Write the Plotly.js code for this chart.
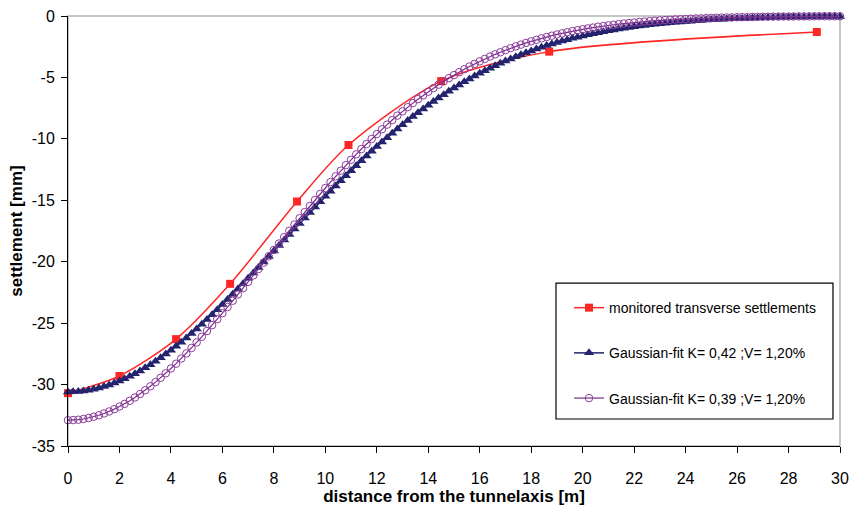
<!DOCTYPE html>
<html>
<head>
<meta charset="utf-8">
<script src="https://cdn.plot.ly/plotly-3.0.1.min.js"></script>
<style>html,body{margin:0;padding:0;background:#fff;}#chart{width:851px;height:511px;}</style>
</head>
<body>
<div id="chart"></div>
<script>
// monitored points
var monX = [0, 2, 4.2, 6.3, 8.9, 10.9, 14.5, 18.7, 29.1];
var monY = [-30.7, -29.3, -26.3, -21.8, -15.1, -10.5, -5.3, -2.9, -1.3];

// fit curve stations [m]
var fitX = [0,0.2,0.4,0.6,0.8,1,1.2,1.4,1.6,1.8,2,2.2,2.4,2.6,2.8,3,3.2,3.4,3.6,3.8,4,4.2,4.4,4.6,4.8,5,5.2,5.4,5.6,5.8,6,6.2,6.4,6.6,6.8,7,7.2,7.4,7.6,7.8,8,8.2,8.4,8.6,8.8,9,9.2,9.4,9.6,9.8,10,10.2,10.4,10.6,10.8,11,11.2,11.4,11.6,11.8,12,12.2,12.4,12.6,12.8,13,13.2,13.4,13.6,13.8,14,14.2,14.4,14.6,14.8,15,15.2,15.4,15.6,15.8,16,16.2,16.4,16.6,16.8,17,17.2,17.4,17.6,17.8,18,18.2,18.4,18.6,18.8,19,19.2,19.4,19.6,19.8,20,20.2,20.4,20.6,20.8,21,21.2,21.4,21.6,21.8,22,22.2,22.4,22.6,22.8,23,23.2,23.4,23.6,23.8,24,24.2,24.4,24.6,24.8,25,25.2,25.4,25.6,25.8,26,26.2,26.4,26.6,26.8,27,27.2,27.4,27.6,27.8,28,28.2,28.4,28.6,28.8,29,29.2,29.4,29.6,29.8,30];

// Gaussian-fit K=0,42
var fitK42 = [-30.60,-30.59,-30.56,-30.52,-30.46,-30.38,-30.28,-30.16,-30.03,-29.88,-29.71,-29.53,-29.33,-29.12,-28.89,-28.64,-28.38,-28.11,-27.82,-27.52,-27.21,-26.88,-26.55,-26.20,-25.84,-25.47,-25.09,-24.70,-24.31,-23.90,-23.49,-23.08,-22.65,-22.22,-21.79,-21.35,-20.91,-20.47,-20.02,-19.58,-19.13,-18.68,-18.23,-17.78,-17.33,-16.88,-16.44,-15.99,-15.55,-15.12,-14.68,-14.26,-13.83,-13.41,-13.00,-12.59,-12.18,-11.78,-11.39,-11.01,-10.63,-10.26,-9.90,-9.54,-9.19,-8.85,-8.51,-8.19,-7.87,-7.56,-7.26,-6.96,-6.68,-6.40,-6.13,-5.87,-5.61,-5.36,-5.13,-4.89,-4.67,-4.46,-4.25,-4.05,-3.85,-3.67,-3.49,-3.31,-3.15,-2.99,-2.84,-2.69,-2.55,-2.41,-2.28,-2.16,-2.04,-1.93,-1.82,-1.72,-1.62,-1.53,-1.44,-1.36,-1.28,-1.20,-1.13,-1.06,-1.00,-0.93,-0.88,-0.82,-0.77,-0.72,-0.67,-0.63,-0.59,-0.55,-0.51,-0.48,-0.45,-0.42,-0.39,-0.36,-0.33,-0.31,-0.29,-0.27,-0.25,-0.23,-0.21,-0.20,-0.18,-0.17,-0.16,-0.14,-0.13,-0.12,-0.11,-0.10,-0.10,-0.09,-0.08,-0.08,-0.07,-0.06,-0.06,-0.05,-0.05,-0.05,-0.04];

// Gaussian-fit K=0,39
var fitK39 = [-32.90,-32.89,-32.86,-32.80,-32.72,-32.62,-32.50,-32.35,-32.19,-32.00,-31.79,-31.57,-31.32,-31.05,-30.77,-30.46,-30.14,-29.80,-29.45,-29.08,-28.69,-28.30,-27.88,-27.46,-27.02,-26.57,-26.11,-25.64,-25.16,-24.68,-24.19,-23.69,-23.18,-22.67,-22.16,-21.64,-21.12,-20.60,-20.08,-19.56,-19.04,-18.52,-18.00,-17.48,-16.97,-16.46,-15.96,-15.46,-14.97,-14.48,-14.00,-13.52,-13.05,-12.59,-12.14,-11.70,-11.26,-10.83,-10.42,-10.01,-9.61,-9.22,-8.84,-8.47,-8.11,-7.76,-7.42,-7.09,-6.77,-6.46,-6.16,-5.87,-5.59,-5.32,-5.06,-4.81,-4.57,-4.33,-4.11,-3.90,-3.69,-3.49,-3.30,-3.12,-2.95,-2.78,-2.62,-2.47,-2.33,-2.19,-2.06,-1.94,-1.82,-1.71,-1.60,-1.50,-1.41,-1.32,-1.23,-1.15,-1.08,-1.01,-0.94,-0.87,-0.82,-0.76,-0.71,-0.66,-0.61,-0.57,-0.53,-0.49,-0.45,-0.42,-0.39,-0.36,-0.33,-0.31,-0.28,-0.26,-0.24,-0.22,-0.20,-0.19,-0.17,-0.16,-0.14,-0.13,-0.12,-0.11,-0.10,-0.09,-0.09,-0.08,-0.07,-0.06,-0.06,-0.05,-0.05,-0.04,-0.04,-0.04,-0.03,-0.03,-0.03,-0.02,-0.02,-0.02,-0.02,-0.02,-0.02];

var seriesNames = ["monitored transverse settlements", "Gaussian-fit K= 0,42 ;V= 1,20%", "Gaussian-fit K= 0,39 ;V= 1,20%"];
var xTicks = [0,2,4,6,8,10,12,14,16,18,20,22,24,26,28,30];
var yTicks = [-35,-30,-25,-20,-15,-10,-5,0];
var yTickText = ["-35","-30","-25","-20","-15","-10","-5","0"];

var FONT = "Liberation Sans, Arial, sans-serif";

var traces = [
  {x: monX, y: monY, name: seriesNames[0], legendgroup: "a", mode: "lines+markers", cliponaxis: false,
   line: {color: "#ff2626", width: 1.5, shape: "spline", smoothing: 0.8},
   marker: {symbol: "square", size: 8, color: "#ff2626"}},
  {x: fitX, y: fitK42, name: seriesNames[1], legendgroup: "b", mode: "lines+markers", cliponaxis: false,
   line: {color: "#24246e", width: 1.5},
   marker: {symbol: "triangle-up", size: 9, color: "#24246e"}},
  {x: fitX, y: fitK39, name: seriesNames[2], legendgroup: "c", mode: "lines+markers", cliponaxis: false,
   line: {color: "#7b2d8b", width: 1.2},
   marker: {symbol: "circle-open", size: 7.5, color: "#8b3d9b", line: {width: 1}}}
];

var layout = {
  width: 851, height: 511,
  margin: {l: 68, r: 11, t: 16, b: 65},
  paper_bgcolor: "#ffffff", plot_bgcolor: "#ffffff",
  font: {family: FONT, size: 16, color: "#000"},
  showlegend: true,
  legend: {x: 0.649, y: 0.358, xanchor: "left", yanchor: "top",
    bgcolor: "rgba(0,0,0,0)", borderwidth: 0,
    font: {family: FONT, size: 14, color: "#000"},
    tracegroupgap: 24, itemwidth: 30},
  xaxis: {range: [0, 30], tickvals: xTicks, ticks: "outside", ticklen: 6, tickcolor: "#000",
    showline: true, linecolor: "#000", linewidth: 1, showgrid: false, zeroline: false,
    tickfont: {family: FONT, size: 16}, ticklabelstandoff: 12, fixedrange: true,
    title: {text: "<b>distance from the tunnelaxis [m]</b>", font: {family: FONT, size: 17}, standoff: 3}},
  yaxis: {range: [-35, 0], tickvals: yTicks, ticktext: yTickText, ticks: "outside", ticklen: 6, tickcolor: "#000",
    showline: true, linecolor: "#000", linewidth: 1, showgrid: false, zeroline: false,
    tickfont: {family: FONT, size: 16}, ticklabelstandoff: 3, fixedrange: true,
    title: {text: "<b>settlement [mm]</b>", font: {family: FONT, size: 17}, standoff: 4}},
  shapes: [
    {type: "rect", xref: "paper", yref: "paper", x0: 0, x1: 1, y0: 0, y1: 1,
     line: {color: "#b4b4b4", width: 1.5}, layer: "below"},
    {type: "rect", xref: "paper", yref: "paper", x0: 0.6321, x1: 0.9909, y0: 0.0628, y1: 0.379,
     line: {color: "#000", width: 1.2}, fillcolor: "#ffffff", layer: "above"}
  ]
};

Plotly.newPlot("chart", traces, layout, {staticPlot: true, displayModeBar: false});
</script>
</body>
</html>
